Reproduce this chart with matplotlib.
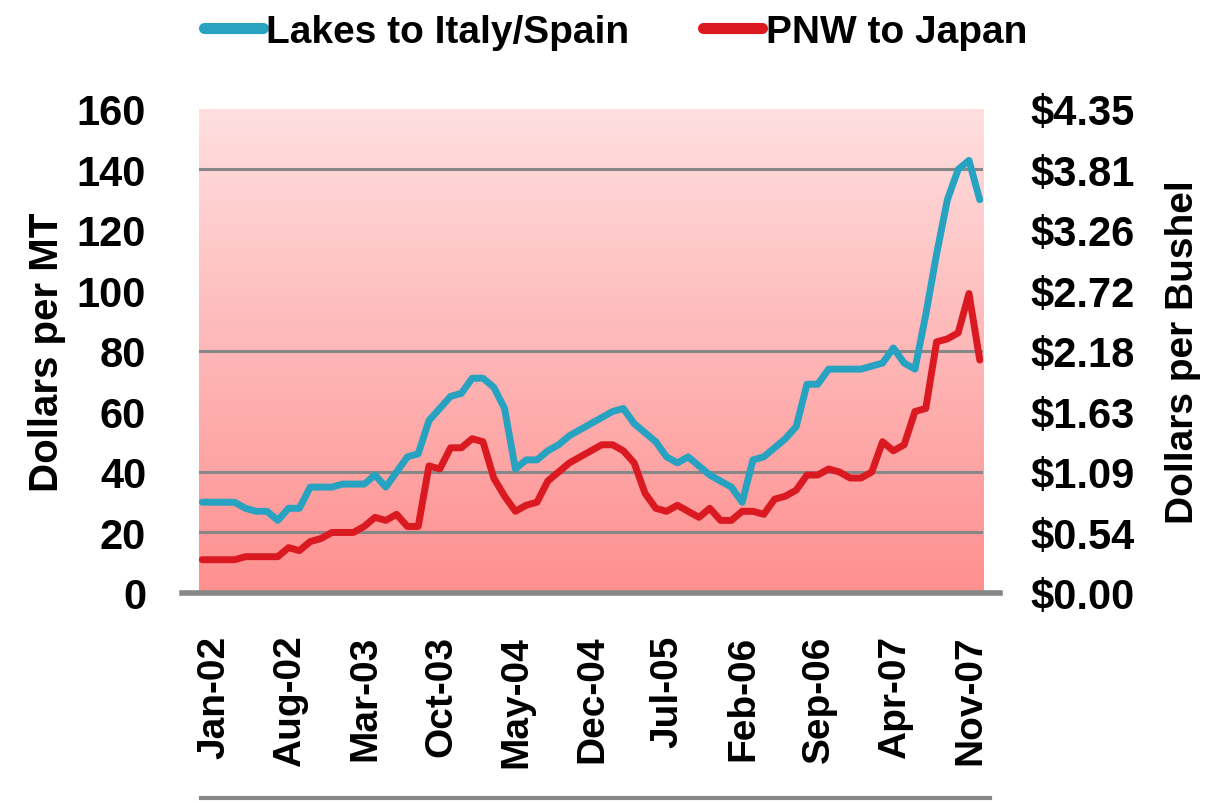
import numpy as np
import matplotlib
matplotlib.use("Agg")
import matplotlib.pyplot as plt
import matplotlib.transforms as mtransforms
from matplotlib.colors import LinearSegmentedColormap
from matplotlib.lines import Line2D

# monthly freight rates, Jan-02 .. Jan-08 (dollars per MT)
lakes_italy = [30, 30, 30, 30, 28, 27, 27, 24, 28, 28, 35, 35, 35, 36, 36, 36, 39, 35, 40, 45,
               46, 57, 61, 65, 66, 71, 71, 68, 61, 41, 44, 44, 47, 49, 52, 54, 56, 58, 60, 61,
               56, 53, 50, 45, 43, 45, 42, 39, 37, 35, 30, 44, 45, 48, 51, 55, 69, 69, 74, 74,
               74, 74, 75, 76, 81, 76, 74, 92, 112, 130, 140, 143, 130]
pnw_japan = [11, 11, 11, 11, 12, 12, 12, 12, 15, 14, 17, 18, 20, 20, 20, 22, 25, 24, 26, 22,
             22, 42, 41, 48, 48, 51, 50, 38, 32, 27, 29, 30, 37, 40, 43, 45, 47, 49, 49, 47,
             43, 33, 28, 27, 29, 27, 25, 28, 24, 24, 27, 27, 26, 31, 32, 34, 39, 39, 41, 40,
             38, 38, 40, 50, 47, 49, 60, 61, 83, 84, 86, 99, 77]

tick_labels = ["Jan-02", "Aug-02", "Mar-03", "Oct-03", "May-04", "Dec-04",
               "Jul-05", "Feb-06", "Sep-06", "Apr-07", "Nov-07"]
left_ticks = [0, 20, 40, 60, 80, 100, 120, 140, 160]
right_labels = ["$0.00", "$0.54", "$1.09", "$1.63", "$2.18", "$2.72", "$3.26", "$3.81", "$4.35"]
grid_vals = [20, 40, 80, 140]

BLUE = "#27a3c1"
RED = "#db1921"
GRAY = "#878787"

plt.rcParams["font.family"] = ["Liberation Sans", "DejaVu Sans"]
plt.rcParams["font.weight"] = "bold"

fig = plt.figure(figsize=(12.19, 8.04), dpi=100)
ax = fig.add_axes([0.1632, 0.2612, 0.6432, 0.602])

x = np.arange(len(lakes_italy))
xmin, xmax = -0.3, len(x) - 0.7

# pink gradient background, light at the top
cmap = LinearSegmentedColormap.from_list("bg", ["#ffdfe0", "#fe8f8f"])
grad = np.linspace(0, 1, 256).reshape(-1, 1)
ax.imshow(grad, extent=[xmin, xmax, 0, 160], origin="upper", aspect="auto", cmap=cmap, zorder=0)

for g in grid_vals:
    ax.axhline(g, color=GRAY, lw=2.2, zorder=1)

ax.plot(x, lakes_italy, color=BLUE, lw=5, zorder=3, label="Lakes to Italy/Spain",
        solid_joinstyle="round", solid_capstyle="round")
ax.plot(x, pnw_japan, color=RED, lw=5, zorder=3, label="PNW to Japan",
        solid_joinstyle="round", solid_capstyle="round")

ax.set_xlim(xmin, xmax)
ax.set_ylim(0, 160)
ax.set_xticks(x[::7][:len(tick_labels)])
ax.set_xticklabels(tick_labels, rotation=90, fontsize=28, fontweight="bold")
ax.tick_params(axis="x", length=0, pad=30)
shift = mtransforms.ScaledTranslation(12 / 100, 0, fig.dpi_scale_trans)
for lab in ax.get_xticklabels():
    lab.set_transform(lab.get_transform() + shift)

ax.set_yticks(left_ticks)
ax.set_yticklabels([str(v) for v in left_ticks], fontsize=30, fontweight="bold")
ax.set_yticks([0] + grid_vals, minor=True)
ax.tick_params(axis="y", which="major", length=0, pad=38)
ax.tick_params(axis="y", which="minor", length=12, width=4, color=GRAY)
ax.set_ylabel("Dollars per MT", fontsize=29, fontweight="bold", labelpad=8)

for s in ax.spines.values():
    s.set_visible(False)

# bottom axis line, running past the plot on both sides
ax.add_line(Line2D([-0.022, 1.022], [0, 0], transform=ax.transAxes, color=GRAY,
                   lw=4, clip_on=False, zorder=4))

ax2 = ax.twinx()
ax2.set_ylim(0, 4.35)
rt = np.linspace(0, 4.35, len(right_labels))
ax2.set_yticks(rt)
ax2.set_yticklabels(right_labels, fontsize=30, fontweight="bold")
ax2.set_yticks([0] + [v * 4.35 / 160 for v in grid_vals], minor=True)
ax2.tick_params(axis="y", which="major", length=0, pad=34)
ax2.tick_params(axis="y", which="minor", length=12, width=4, color=GRAY)
ax2.set_ylabel("Dollars per Bushel", fontsize=28, fontweight="bold", labelpad=22)
for s in ax2.spines.values():
    s.set_visible(False)

# line under the category labels
fig.add_artist(Line2D([0.165, 0.812], [0.006, 0.006], color=GRAY, lw=3))

fig.legend(loc="center", bbox_to_anchor=(0.505, 0.959), ncol=2, frameon=False,
           handlelength=1.5, handletextpad=0.1, columnspacing=1.9,
           prop={"weight": "bold", "size": 28})
for h in fig.legends[0].get_lines():
    h.set_linewidth(8)

fig.savefig("out.png", dpi=100)
